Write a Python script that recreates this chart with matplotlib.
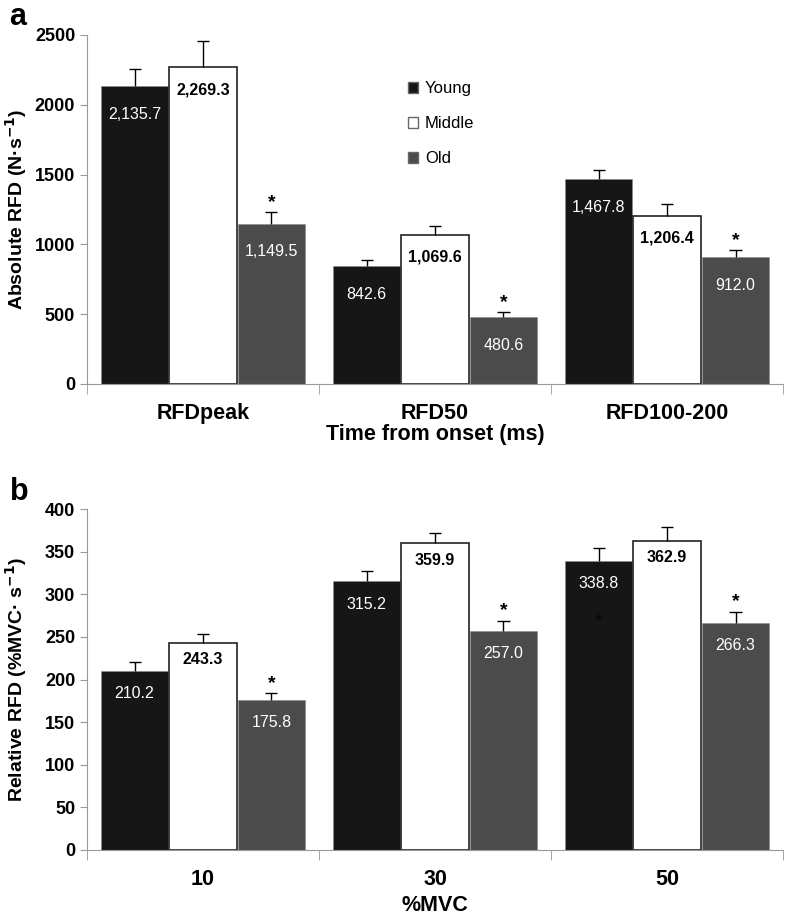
import numpy as np
import matplotlib
matplotlib.use("Agg")
import matplotlib.pyplot as plt
from matplotlib.patches import Patch

plt.rcParams["font.family"] = ["Liberation Sans", "DejaVu Sans"]
plt.rcParams["mathtext.default"] = "bf"

groups = ["Young", "Middle", "Old"]
colors = ["#161616", "#ffffff", "#4b4b4b"]

abs_categories = ["RFDpeak", "RFD50", "RFD100-200"]
abs_young = [2135.7, 842.6, 1467.8]
abs_middle = [2269.3, 1069.6, 1206.4]
abs_old = [1149.5, 480.6, 912.0]
abs_young_err = [120, 47, 67]
abs_middle_err = [190, 60, 84]
abs_old_err = [80, 35, 48]
abs_labels = [["2,135.7", "842.6", "1,467.8"],
              ["2,269.3", "1,069.6", "1,206.4"],
              ["1,149.5", "480.6", "912.0"]]

rel_categories = ["10", "30", "50"]
rel_young = [210.2, 315.2, 338.8]
rel_middle = [243.3, 359.9, 362.9]
rel_old = [175.8, 257.0, 266.3]
rel_young_err = [10, 12, 15]
rel_middle_err = [10, 12, 16]
rel_old_err = [8, 12, 13]
rel_labels = [["210.2", "315.2", "338.8"],
              ["243.3", "359.9", "362.9"],
              ["175.8", "257.0", "266.3"]]

width = 0.29
offsets = [-0.295, 0.0, 0.295]
cap = 0.026


def draw_panel(ax, cats, series, errs, labels, ylim, yticks, ylabel, xlabel, drop=0):
    x = np.arange(len(cats))
    for i, (vals, err, col) in enumerate(zip(series, errs, colors)):
        xs = x + offsets[i]
        vals = np.array(vals)
        err = np.array(err)
        ec = "#222222" if i == 1 else "#888888"
        ax.bar(xs, vals, width, color=col, edgecolor=ec, linewidth=1.2 if i == 1 else 0.4, zorder=2)
        # error bars only going up, cap on top only
        ax.vlines(xs, vals, vals + err, color="black", linewidth=1.0, zorder=3)
        ax.hlines(vals + err, xs - cap, xs + cap, color="black", linewidth=1.0, zorder=3)
        for j in range(len(vals)):
            if i == 1:
                ax.annotate(labels[i][j], (xs[j], vals[j]), xytext=(0, -7 - drop), textcoords="offset points",
                            ha="center", va="top", fontsize=11.5, fontweight="bold", color="black", zorder=4)
            else:
                ax.annotate(labels[i][j], (xs[j], vals[j]), xytext=(0, -11 - drop), textcoords="offset points",
                            ha="center", va="top", fontsize=11.5, color="white", zorder=4)
            if i == 2:
                ax.annotate("*", (xs[j], vals[j] + err[j]), xytext=(0, 1), textcoords="offset points",
                            ha="center", va="bottom", fontsize=14, fontweight="bold", zorder=4)
    ax.set_xlim(-0.5, len(cats) - 0.5)
    ax.set_ylim(*ylim)
    ax.set_yticks(yticks)
    ax.set_yticklabels([str(t) for t in yticks], fontsize=13, fontweight="bold")
    ax.set_xticks(x)
    ax.set_xticklabels(cats, fontsize=15.5, fontweight="bold")
    ax.set_xticks(np.arange(len(cats) + 1) - 0.5, minor=True)
    ax.tick_params(axis="x", which="major", length=0, pad=14)
    ax.tick_params(axis="x", which="minor", length=7, color="#999999")
    ax.tick_params(axis="y", length=5, color="#999999")
    for s in ["top", "right"]:
        ax.spines[s].set_visible(False)
    for s in ["left", "bottom"]:
        ax.spines[s].set_color("#999999")
    ax.set_ylabel(ylabel, fontsize=14, fontweight="bold")
    ax.yaxis.set_label_coords(-0.084, 0.5)
    ax.set_xlabel(xlabel, fontsize=15.5, fontweight="bold")


fig = plt.figure(figsize=(7.95, 9.18), dpi=100)
ax1 = fig.add_axes([0.1094, 0.5817, 0.8756, 0.3802])
ax2 = fig.add_axes([0.1094, 0.0741, 0.8756, 0.3714])

draw_panel(ax1, abs_categories, [abs_young, abs_middle, abs_old],
           [abs_young_err, abs_middle_err, abs_old_err], abs_labels,
           (0, 2500), [0, 500, 1000, 1500, 2000, 2500],
           "Absolute RFD (N·s$^{-1}$)", "Time from onset (ms)", drop=4)
ax1.xaxis.labelpad = 0

draw_panel(ax2, rel_categories, [rel_young, rel_middle, rel_old],
           [rel_young_err, rel_middle_err, rel_old_err], rel_labels,
           (0, 400), list(range(0, 401, 50)),
           "Relative RFD (%MVC· s$^{-1}$)", "%MVC")
ax2.xaxis.labelpad = 3
# faint asterisk inside the young bar at 50 %MVC
ax2.annotate("*", (2 + offsets[0], rel_young[2]), xytext=(0, -38), textcoords="offset points",
             ha="center", va="top", fontsize=13, color="#050505", zorder=5)

handles = [Patch(facecolor=c, edgecolor="#666666") for c in colors]
ax1.legend(handles, groups, loc="upper left", bbox_to_anchor=(0.44, 0.91), frameon=False,
           fontsize=12, handlelength=0.6, handleheight=0.6, handletextpad=0.4, labelspacing=1.2)

fig.text(0.012, 0.981, "a", fontsize=22, fontweight="bold", va="center")
fig.text(0.012, 0.464, "b", fontsize=22, fontweight="bold", va="center")

fig.savefig("out.png", dpi=100)
